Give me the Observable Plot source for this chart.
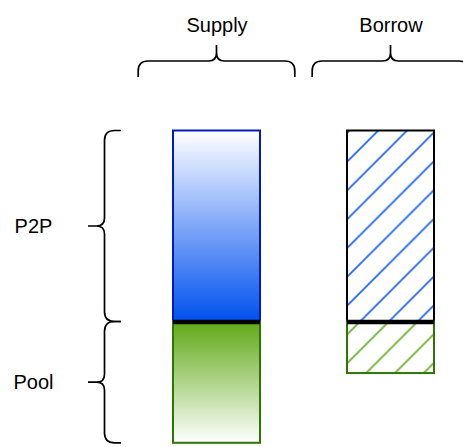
<!DOCTYPE html>
<html><head><meta charset="utf-8">
<script src="https://cdn.jsdelivr.net/npm/d3@7"></script>
<script src="https://cdn.jsdelivr.net/npm/@observablehq/plot@0.6"></script>
<style>body{margin:0;background:#fff} svg{display:block;overflow:hidden}</style>
</head><body><div id="chart"></div>
<script>
// ---- data ----
const columns = ["Supply", "Borrow"];
const layers = ["P2P", "Pool"];
const p2pValues = [100, 100];
const poolValues = [63.5, 27];

const fills = {
  "Supply|P2P": "url(#gBlue)", "Supply|Pool": "url(#gGreen)",
  "Borrow|P2P": "url(#hBlue)", "Borrow|Pool": "url(#hGreen)"
};
const strokes = {
  "Supply|P2P": "#001DBC", "Supply|Pool": "#2D7600",
  "Borrow|P2P": "#000000", "Borrow|Pool": "#2D7600"
};

const rows = [];
columns.forEach((c, i) => {
  rows.push({column: c, layer: "P2P", y1: 0, y2: p2pValues[i]});
  rows.push({column: c, layer: "Pool", y1: -poolValues[i], y2: 0});
});
const layerExtents = layers.map(l => {
  const r = rows.filter(d => d.layer === l);
  return {layer: l, y1: d3.min(r, d => d.y1), y2: d3.max(r, d => d.y2), mid: (d3.min(r, d => d.y1) + d3.max(r, d => d.y2)) / 2};
});

const FONT = "Liberation Sans, Arial, Helvetica, sans-serif";

function braces(index, scales) {
  const {x, y} = scales;
  const bw = typeof x.bandwidth === "function" ? x.bandwidth() : x.bandwidth;
  const g = d3.create("svg:g").attr("fill", "none").attr("stroke", "#000").attr("stroke-width", 1.7);
  // top braces (horizontal)
  const yEnd = 77, yLine = 61, yTip = 45, r = 10;
  for (const c of columns) {
    const cx = x(c) + bw / 2, hw = bw * 0.9;
    const p = d3.path();
    p.moveTo(cx - hw, yEnd); p.lineTo(cx - hw, yLine + r);
    p.quadraticCurveTo(cx - hw, yLine, cx - hw + r, yLine);
    p.lineTo(cx - 8, yLine); p.quadraticCurveTo(cx, yLine, cx, yLine - 8); p.lineTo(cx, yTip);
    p.moveTo(cx, yTip); p.lineTo(cx, yLine - 8); p.quadraticCurveTo(cx, yLine, cx + 8, yLine);
    p.lineTo(cx + hw - r, yLine); p.quadraticCurveTo(cx + hw, yLine, cx + hw, yLine + r);
    p.lineTo(cx + hw, yEnd);
    g.append("path").attr("d", p.toString());
  }
  // left braces (vertical)
  const xEnd = 121, xLine = 104.5, xTip = 88;
  for (const e of layerExtents) {
    const yT = y(e.y2), yB = y(e.y1), ym = y(e.mid);
    const p = d3.path();
    p.moveTo(xEnd, yT); p.lineTo(xLine + r, yT);
    p.quadraticCurveTo(xLine, yT, xLine, yT + r);
    p.lineTo(xLine, ym - 8); p.quadraticCurveTo(xLine, ym, xLine - 8, ym); p.lineTo(xTip, ym);
    p.moveTo(xTip, ym); p.lineTo(xLine - 8, ym); p.quadraticCurveTo(xLine, ym, xLine, ym + 8);
    p.lineTo(xLine, yB - r); p.quadraticCurveTo(xLine, yB, xLine + r, yB);
    p.lineTo(xEnd, yB);
    g.append("path").attr("d", p.toString());
  }
  return g.node();
}

const plot = Plot.plot({
  width: 463,
  height: 447,
  margin: 0,
  x: {domain: columns, range: [129.5, 477.5], paddingInner: 0.5, paddingOuter: 0.25, axis: null},
  y: {domain: [0, 100], range: [321.5, 130.5], axis: null},
  color: {type: "identity"},
  style: {background: "#fff"},
  marks: [
    Plot.barY(rows, {
      x: "column", y1: "y1", y2: "y2",
      fill: d => fills[d.column + "|" + d.layer],
      stroke: d => strokes[d.column + "|" + d.layer],
      strokeWidth: 2
    }),
    Plot.tickY(columns, {x: d => d, y: () => 0, stroke: "#000", strokeWidth: 4.5}),
    braces,
    Plot.text(columns, {x: d => d, frameAnchor: "top", dy: 17, text: d => d, fontSize: 20, fontFamily: FONT, fill: "#000"}),
    Plot.text(layerExtents, {y: "mid", frameAnchor: "left", dx: 33, text: "layer", textAnchor: "middle", fontSize: 20, fontFamily: FONT, fill: "#000"})
  ]
});

// gradient and hatch definitions
const svg = d3.select(plot);
const defs = svg.insert("defs", ":first-child");
const gb = defs.append("linearGradient").attr("id", "gBlue").attr("x1", 0).attr("y1", 0).attr("x2", 0).attr("y2", 1);
gb.append("stop").attr("offset", "0%").attr("stop-color", "#ffffff");
gb.append("stop").attr("offset", "100%").attr("stop-color", "#0050ef");
const gg = defs.append("linearGradient").attr("id", "gGreen").attr("x1", 0).attr("y1", 0).attr("x2", 0).attr("y2", 1);
gg.append("stop").attr("offset", "0%").attr("stop-color", "#60a917");
gg.append("stop").attr("offset", "100%").attr("stop-color", "#ffffff");
function hatch(id, color) {
  const P = 28.8;
  const pat = defs.append("pattern").attr("id", id).attr("patternUnits", "userSpaceOnUse")
    .attr("width", P).attr("height", P).attr("x", 19.2).attr("y", 0);
  pat.append("rect").attr("width", P).attr("height", P).attr("fill", "#fff");
  pat.append("path")
    .attr("d", `M0,${P} L${P},0 M${-P/4},${P/4} L${P/4},${-P/4} M${P*3/4},${P*5/4} L${P*5/4},${P*3/4}`)
    .attr("stroke", color).attr("stroke-width", 1.7).attr("fill", "none");
}
hatch("hBlue", "#1c63f0");
hatch("hGreen", "#6aad2c");

document.getElementById("chart").appendChild(plot);
</script>
</body></html>
